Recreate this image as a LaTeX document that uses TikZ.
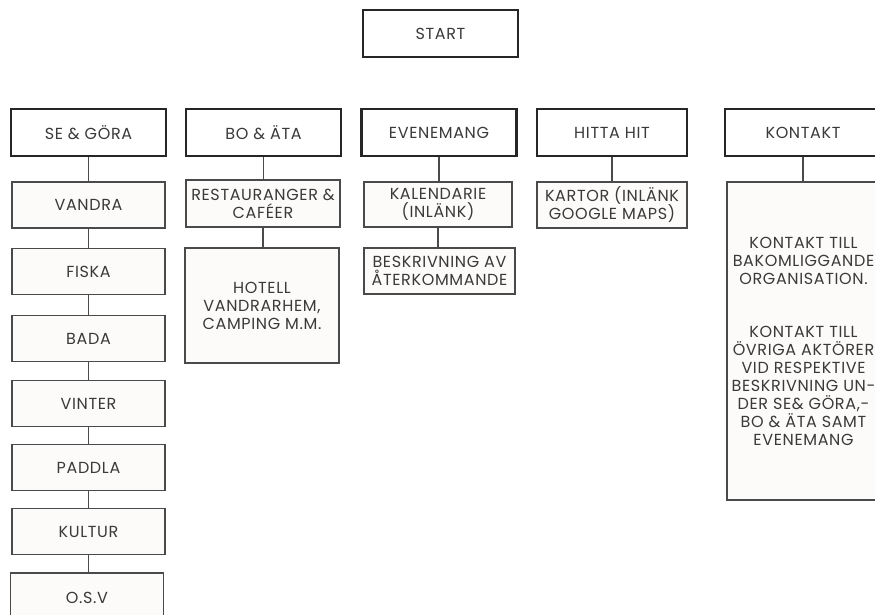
\documentclass[tikz,border=0pt]{standalone}
\usepackage{fontspec}
\setmainfont{Poppins}[LetterSpace=4]

\definecolor{headline}{HTML}{262626}
\definecolor{subline}{HTML}{4A4A4A}
\definecolor{subfill}{HTML}{FCFBF9}
\definecolor{labeltext}{HTML}{3A3A3A}

\tikzset{
  headbox/.style={draw=headline,line width=2.4pt,fill=white,minimum width=155pt,
    minimum height=47pt,inner sep=0pt,text=labeltext,align=center,
    font=\fontsize{16}{18}\selectfont},
  subbox/.style={draw=subline,line width=1.2pt,fill=subfill,minimum width=153pt,
    minimum height=46pt,inner sep=0pt,text=labeltext,align=center,
    font=\fontsize{16}{18}\selectfont},
  link/.style={draw=subline,line width=1.2pt}
}

\begin{document}
\begin{tikzpicture}[x=1pt,y=-1pt]
\useasboundingbox (0,0) rectangle (875,615);
\clip (0,0) rectangle (875,615);

\path (440.5,33.5) node[headbox] (start) {START};

% top level
\path (88.5,132.5) node[headbox] (se) {SE \& GÖRA};
\path (263.5,132.5) node[headbox] (bo) {BO \& ÄTA};
\path (439,132.5) node[headbox] (even) {EVENEMANG};
\path (612,132.5) node[headbox,minimum width=150pt] (hitta) {HITTA HIT};
\path (803,132.5) node[headbox,minimum width=156pt] (kontakt) {KONTAKT};

% se & göra
\path (88.5,205) node[subbox] (vandra) {VANDRA};
\path (88.5,271.5) node[subbox] (fiska) {FISKA};
\path (88.5,338.5) node[subbox] (bada) {BADA};
\path (88.5,403.5) node[subbox] (vinter) {VINTER};
\path (88.5,467.5) node[subbox] (paddla) {PADDLA};
\path (88.5,531.5) node[subbox] (kultur) {KULTUR};
\path (87,598) node[subbox,minimum height=50pt] (osv) {O.S.V};

% bo & äta
\path (263,203.5) node[subbox,minimum width=154pt,minimum height=47pt] (rest) {RESTAURANGER \&\\CAFÉER};
\path (262,305.5) node[subbox,minimum width=154pt,minimum height=115pt] (hotell) {HOTELL\\VANDRARHEM,\\CAMPING M.M.};

% evenemang
\path (438,204.5) node[subbox,minimum width=148pt,minimum height=45pt] (kalendarie) {KALENDARIE\\(INLÄNK)};
\path (439.5,271) node[subbox,minimum width=151pt] (beskrivning) {BESKRIVNING AV\\ÅTERKOMMANDE};

% hitta hit
\path (612,205) node[subbox,minimum width=150pt] (kartor) {KARTOR (INLÄNK\\GOOGLE MAPS)};

% kontakt
\path (803.5,341) node[subbox,minimum height=318pt] (info) {KONTAKT TILL\\BAKOMLIGGANDE\\ORGANISATION.\\[35pt]
  KONTAKT TILL\\ÖVRIGA AKTÖRER\\VID RESPEKTIVE\\BESKRIVNING UN-\\DER SE\& GÖRA,-\\BO \& ÄTA SAMT\\EVENEMANG};

\foreach \a/\b in {se/vandra,vandra/fiska,fiska/bada,bada/vinter,vinter/paddla,
    paddla/kultur,kultur/osv,bo/rest,rest/hotell,even/kalendarie,
    kalendarie/beskrivning,hitta/kartor,kontakt/info}
  \draw[link] (\a.south) -- (\a.south |- \b.north);

\end{tikzpicture}
\end{document}
